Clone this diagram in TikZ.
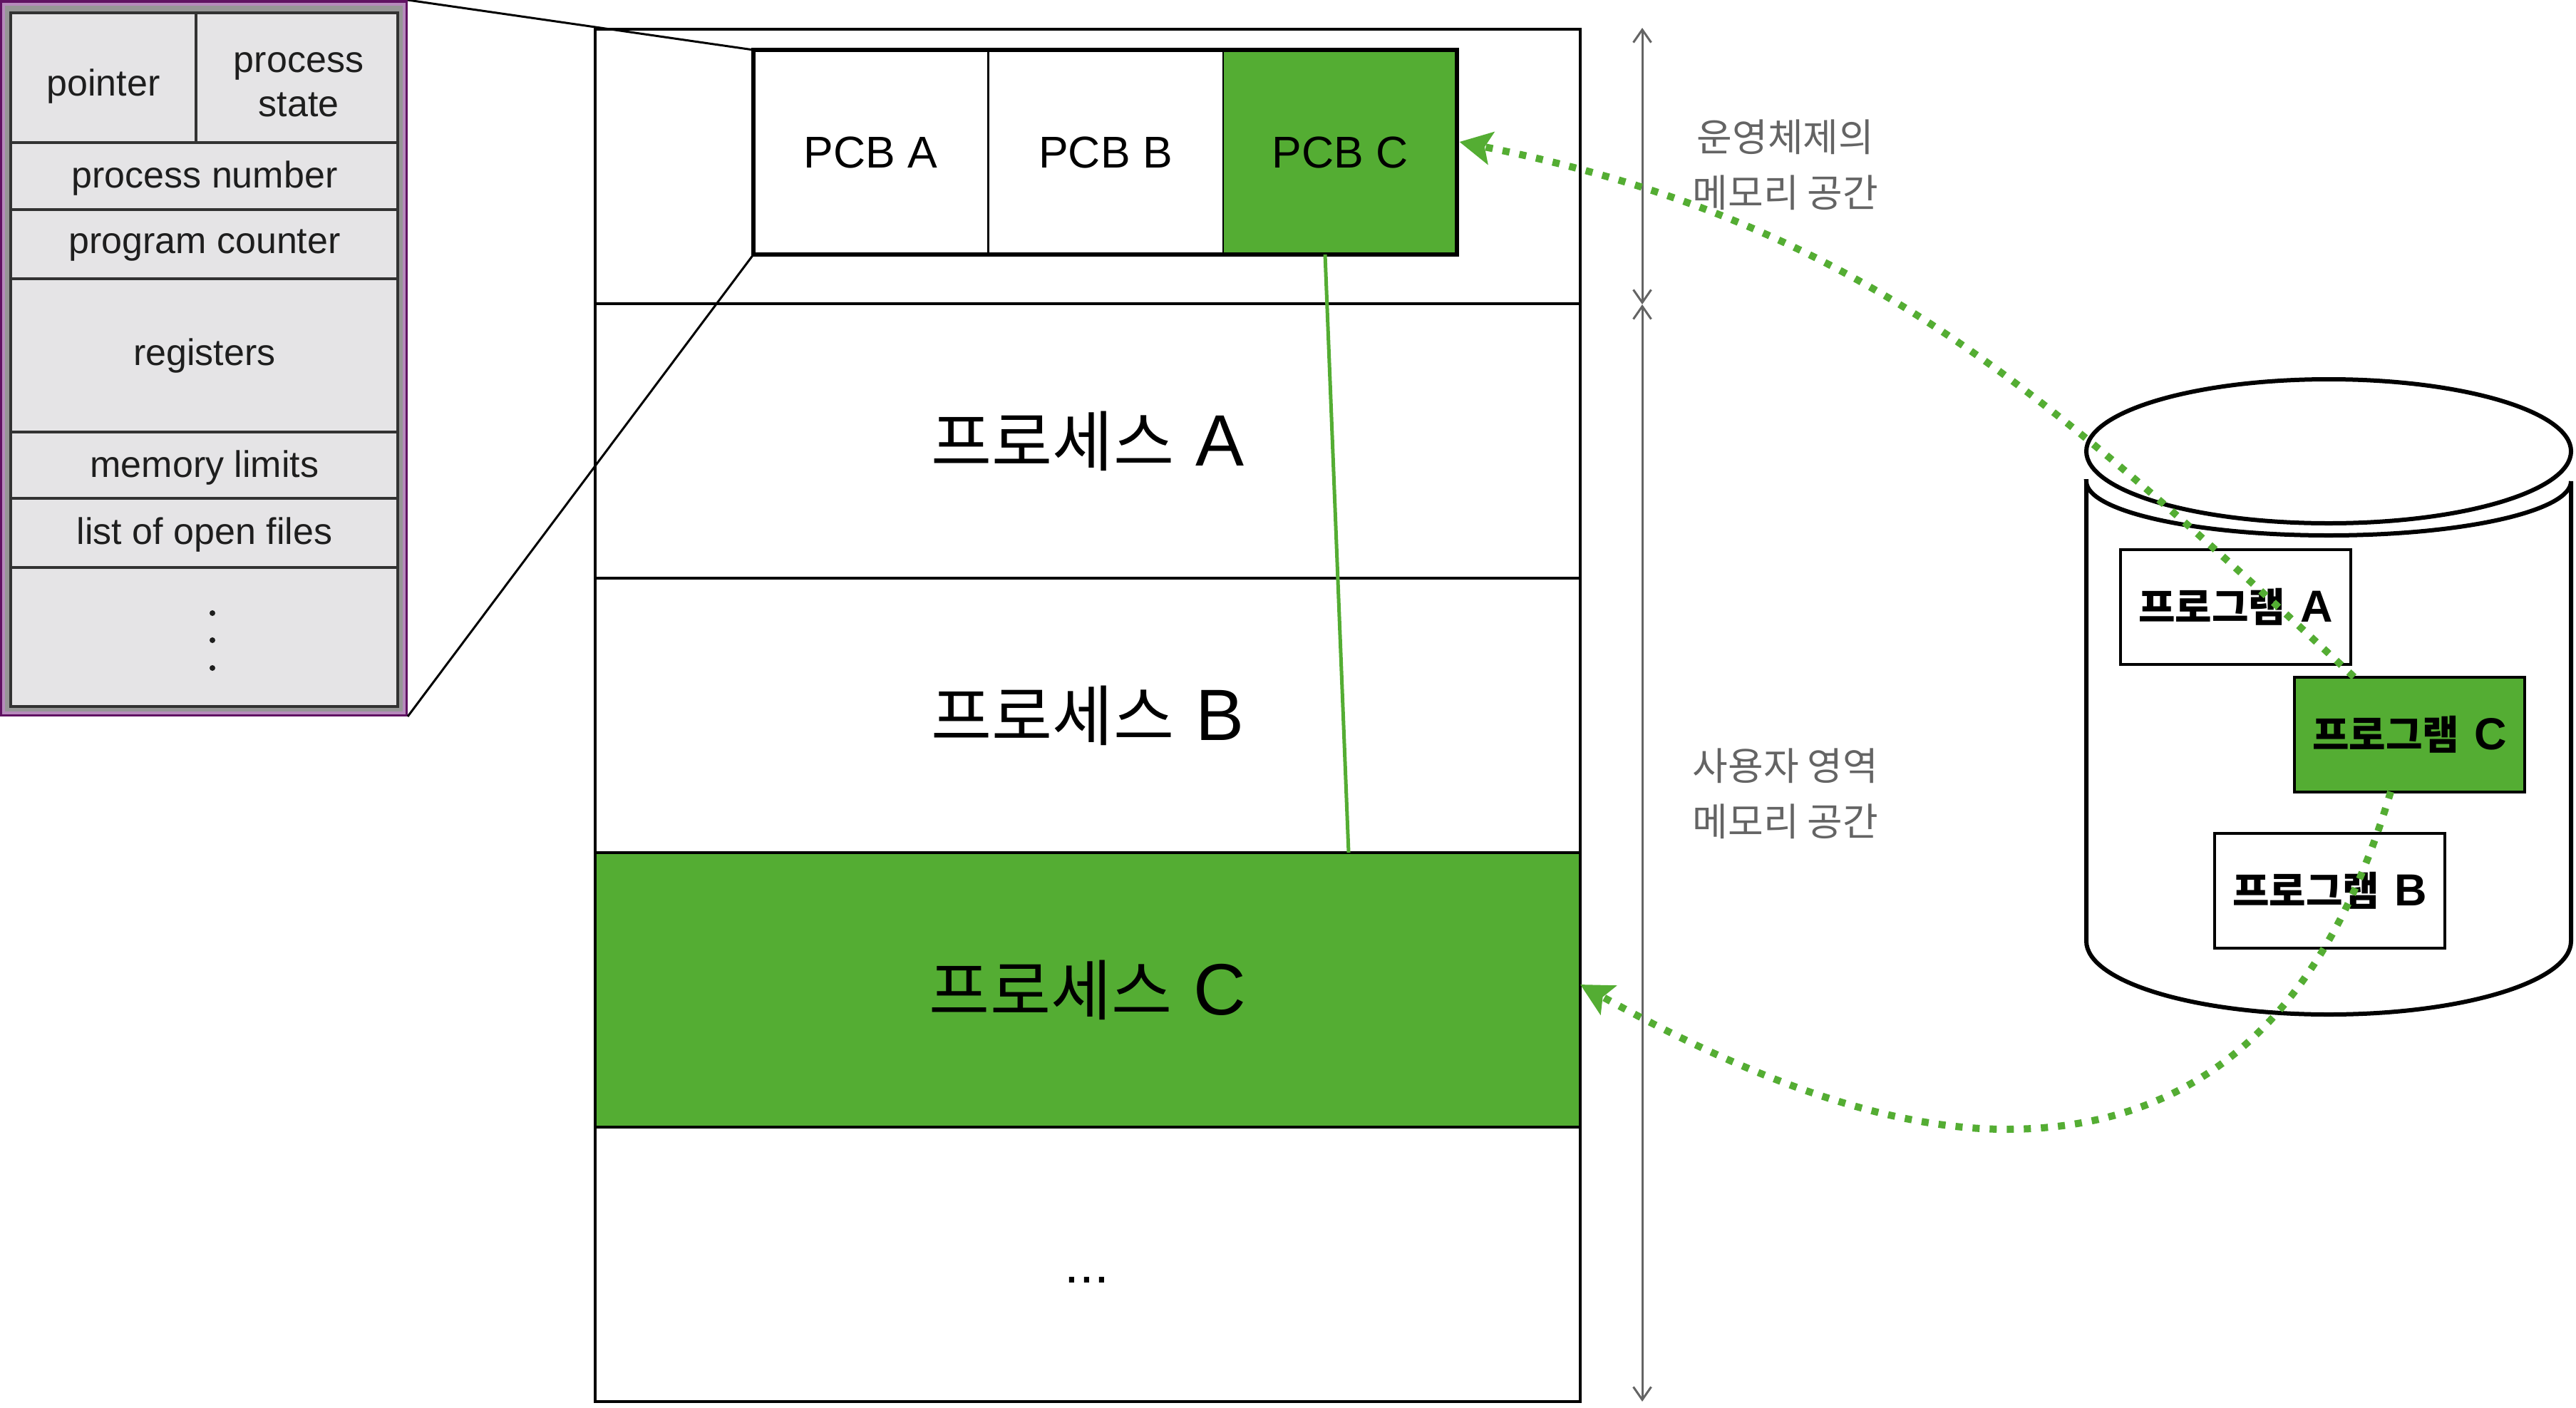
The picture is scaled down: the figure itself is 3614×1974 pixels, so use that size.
\documentclass[tikz,border=0pt]{standalone}
\usepackage{fontspec}
\setmainfont{Liberation Sans}
\newfontfamily\kr{Noto Sans CJK KR}
\usetikzlibrary{arrows.meta}
\definecolor{grn}{RGB}{84,173,51}
\definecolor{lbl}{RGB}{100,100,100}
\definecolor{purp}{RGB}{96,18,98}
\definecolor{lpurp}{RGB}{182,138,188}
\definecolor{midgray}{RGB}{150,150,150}
\definecolor{cellbg}{RGB}{229,228,230}
\definecolor{cellline}{RGB}{50,50,50}
\definecolor{ptxt}{RGB}{30,30,30}
\newcommand\proclabel[1]{{\kr\fontsize{18.5}{22}\selectfont 프로세스}\hspace{6pt}{\fontsize{20.4}{24}\selectfont #1}}
\newcommand\proglabel[1]{{\kr\bfseries\fontsize{11.2}{13}\selectfont 프로그램}\hspace{4.2pt}{\bfseries\fontsize{12.6}{15}\selectfont #1}}
\begin{document}
\begin{tikzpicture}[x=0.2pt,y=-0.2pt,
  memrow/.style={draw=black, line width=0.65pt, minimum width=276.4pt, minimum height=77pt, inner sep=0pt, outer sep=0pt},
  pcbcell/.style={draw=black, line width=0.4pt, minimum width=65.8pt, minimum height=57.4pt, inner sep=0pt, outer sep=0pt, font=\fontsize{12.5}{15}\selectfont},
  prog/.style={draw=black, line width=0.8pt, minimum width=64.6pt, minimum height=32.2pt, inner sep=0pt, outer sep=0pt},
  dettext/.style={text=ptxt, font=\fontsize{10.4}{12.4}\selectfont, inner sep=0pt, align=center},
  sidelabel/.style={text=lbl, font=\kr\fontsize{10.8}{15.6}\selectfont, align=center, inner sep=0pt},
  vline/.style={draw=lbl, line width=0.6pt, {Straight Barb[length=3.6pt,width=5pt]}-{Straight Barb[length=3.6pt,width=5pt]}},
  cyl/.style={draw=black, line width=1.2pt, fill=white},
  dotarrow/.style={draw=grn, line width=2pt, dash pattern=on 2pt off 2.8pt, -{Stealth[length=9pt,width=9.2pt,inset=1.8pt]}, fill=none},
  zoomline/.style={draw=black, line width=0.6pt}
]
\useasboundingbox (0,0) rectangle (3614,1974);

% ---- memory layout ----
\node[memrow] (rowOS) at (1526,233.5) {};
\node[memrow] (rowA) at (1526,618.5) {\proclabel{A}};
\node[memrow] (rowB) at (1526,1003.5) {\proclabel{B}};
\node[memrow, fill=grn] (rowC) at (1526,1388.5) {\proclabel{C}};
\node[memrow] (rowD) at (1526,1773.5) {};
\node[anchor=base, inner sep=0pt, font=\fontsize{15}{18}\selectfont] (etc) at (1525,1799) {...};

% ---- PCB row ----
\node[pcbcell, fill=white] (pcbA) at (1221.5,213.5) {PCB A};
\node[pcbcell, fill=white] (pcbB) at (1551,213.5) {PCB B};
\node[pcbcell, fill=grn] (pcbC) at (1880,213.5) {PCB C};
\node[draw=black, line width=1.1pt, minimum width=197.4pt, minimum height=57.4pt, inner sep=0pt, outer sep=0pt] (pcbrow) at (1550.5,213.5) {};

\draw[draw=grn, line width=1pt] ([xshift=-4.2pt]pcbC.south) -- ([xshift=73.2pt]rowC.north);

% ---- PCB detail ----
\node[fill=purp, minimum width=114.4pt, minimum height=201pt, inner sep=0pt, outer sep=0pt, anchor=north west] (detail) at (0,0) {};
\fill[midgray] (6,7) rectangle (566,999);
\draw[lpurp, line width=0.7pt] (5,6) rectangle (567,1000);
\draw[fill=cellbg, draw=cellline, line width=0.9pt] (15,18) rectangle (558,991);
\draw[cellline, line width=0.8pt] (275,18) -- (275,200)
  (15,200) -- (558,200) (15,294) -- (558,294) (15,391) -- (558,391)
  (15,606) -- (558,606) (15,699) -- (558,699) (15,796) -- (558,796);
\node[dettext] (fptr) at (145,121) {pointer};
\node[dettext] (fstate) at (419,119) {process\\state};
\node[dettext] (fnum) at (287,250) {process number};
\node[dettext] (fpc) at (287,344) {program counter};
\node[dettext] (fregs) at (287,499) {registers};
\node[dettext] (fmem) at (287,656) {memory limits};
\node[dettext] (ffiles) at (287,750) {list of open files};
\fill[ptxt] (298,860) circle[radius=0.8pt] (298,898) circle[radius=0.8pt] (298,937) circle[radius=0.8pt];

\draw[zoomline] (detail.north east) -- (pcbrow.north west);
\draw[zoomline] (detail.south east) -- (pcbrow.south west);

% ---- side labels and extent arrows ----
\coordinate (vt) at (2304,39);
\coordinate (vm) at (2304,427);
\coordinate (vb) at (2304,1966);
\draw[vline] (vt) -- (vm);
\draw[vline] (vm) -- (vb);
\node[sidelabel] (oslbl) at (2505,231) {운영체제의\\메모리 공간};
\node[sidelabel] (userlbl) at (2505,1113) {사용자 영역\\메모리 공간};

% ---- disk ----
\draw[cyl] (2927,675) -- (2927,1320)
  arc[start angle=180, end angle=360, x radius=68pt, y radius=20.6pt]
  -- (3607,675)
  arc[start angle=0, end angle=-180, x radius=68pt, y radius=15.2pt] -- cycle;
\draw[cyl] (3267,633) ellipse[x radius=68pt, y radius=20.2pt];

\node[prog, fill=white] (progA) at (3136.5,851) {\proglabel{A}};
\node[prog, fill=grn] (progC) at (3380.5,1030) {\proglabel{C}};
\node[prog, fill=white] (progB) at (3268.5,1249) {\proglabel{B}};

% ---- loading arrows ----
\draw[dotarrow] ([xshift=-15.6pt]progC.north) .. controls (2852,531) and (2597,309) .. ([xshift=0.6pt,yshift=2.9pt]pcbC.east);
\draw[dotarrow] ([xshift=-5.3pt]progC.south) .. controls (3264,1413) and (3094,1584) .. (2814,1584)
  .. controls (2614,1584) and (2398,1481) .. ([yshift=1.5pt]rowC.east);
\end{tikzpicture}
\end{document}
